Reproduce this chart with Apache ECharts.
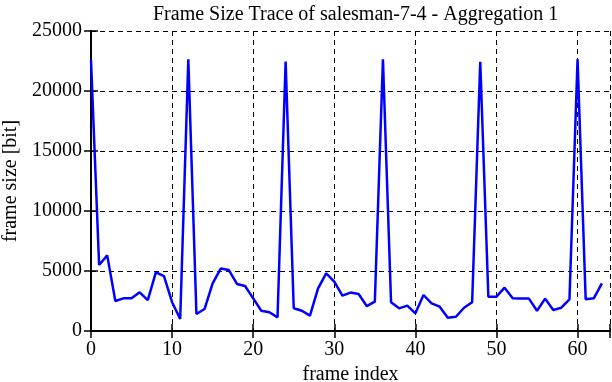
<!DOCTYPE html>
<html>
<head>
<meta charset="utf-8">
<script src="https://cdn.jsdelivr.net/npm/echarts@6/dist/echarts.min.js"></script>
<style>html,body{margin:0;padding:0;background:#fff}#c{width:612px;height:382px}</style>
</head>
<body>
<div id="c"></div>
<script>
const titleText = 'Frame Size Trace of salesman-7-4 - Aggregation 1';
const xName = 'frame index';
const yName = 'frame size [bit]';
const frameIndex = [0,1,2,3,4,5,6,7,8,9,10,11,12,13,14,15,16,17,18,19,20,21,22,23,24,25,26,27,28,29,30,31,32,33,34,35,36,37,38,39,40,41,42,43,44,45,46,47,48,49,50,51,52,53,54,55,56,57,58,59,60,61,62,63];
const frameSize = [22600,5500,6300,2500,2720,2720,3220,2580,4890,4580,2400,1000,22650,1420,1830,3970,5200,5080,3920,3750,2720,1690,1560,1140,22450,1890,1690,1280,3550,4800,4110,2950,3200,3080,2080,2450,22640,2400,1890,2110,1470,3000,2300,2030,1110,1190,1940,2400,22440,2860,2860,3610,2720,2700,2700,1690,2700,1750,1940,2640,22640,2640,2720,3970];
const xTicks = [0,10,20,30,40,50,60];
const yTicks = [0,5000,10000,15000,20000,25000];

const font = 'Liberation Serif';
const fs = 20;
const gridLeft = 91, gridRight = 2, W = 612;
const ctx = document.createElement('canvas').getContext('2d');
ctx.font = fs + 'px "' + font + '"';
const titleW = ctx.measureText(titleText).width;
const titleLeft = Math.round(gridLeft + (W - gridLeft - gridRight) / 2 - titleW / 2);

const chart = echarts.init(document.getElementById('c'), null, {renderer:'canvas'});
const dashed = {show:true, lineStyle:{color:'#000', type:[5,4], width:1}};
chart.setOption({
  animation:false,
  backgroundColor:'#fff',
  title:{text:titleText, left:titleLeft, top:0, textStyle:{fontFamily:font, fontWeight:'normal', fontSize:fs, color:'#000'}},
  grid:{left:gridLeft, right:gridRight, top:31, bottom:51, containLabel:false, outerBoundsMode:'none'},
  xAxis:[{
    type:'value', min:0, max:64, interval:10,
    name:xName, nameLocation:'middle', nameGap:33,
    nameTextStyle:{fontFamily:font, fontSize:fs, color:'#000'},
    axisLine:{show:true, onZero:false, lineStyle:{color:'#000', width:2}},
    axisTick:{show:true, inside:true, length:7, lineStyle:{color:'#000', width:1.5}},
    axisLabel:{fontFamily:font, fontSize:fs, color:'#000', margin:9, formatter:v=>xTicks.includes(v)?String(v):''},
    splitLine:dashed
  },{
    type:'value', position:'top', min:0, max:64, interval:10,
    axisLine:{show:true, lineStyle:{color:'#000', width:2}},
    axisTick:{show:true, inside:true, length:7, lineStyle:{color:'#000', width:1.5}},
    axisLabel:{show:false}, splitLine:{show:false}
  }],
  yAxis:[{
    type:'value', min:0, max:25000, interval:5000,
    name:yName, nameLocation:'middle', nameGap:63, nameRotate:90,
    nameTextStyle:{fontFamily:font, fontSize:fs, color:'#000'},
    axisLine:{show:true, onZero:false, lineStyle:{color:'#000', width:2}},
    axisTick:{show:true, inside:true, length:7, lineStyle:{color:'#000', width:1.5}},
    axisLabel:{fontFamily:font, fontSize:fs, color:'#000', margin:9, formatter:v=>yTicks.includes(v)?String(v):''},
    splitLine:dashed
  },{
    type:'value', position:'right', min:0, max:25000, interval:5000,
    axisLine:{show:true, lineStyle:{color:'#000', width:2}},
    axisTick:{show:true, inside:true, length:7, lineStyle:{color:'#000', width:1.5}},
    axisLabel:{show:false}, splitLine:{show:false}
  }],
  series:[{
    type:'line', xAxisIndex:0, yAxisIndex:0,
    data:frameIndex.map((x,i)=>[x, frameSize[i]]),
    showSymbol:false, symbol:'none',
    lineStyle:{color:'#0000ff', width:2.5},
    clip:true
  }]
});
</script>
</body>
</html>
